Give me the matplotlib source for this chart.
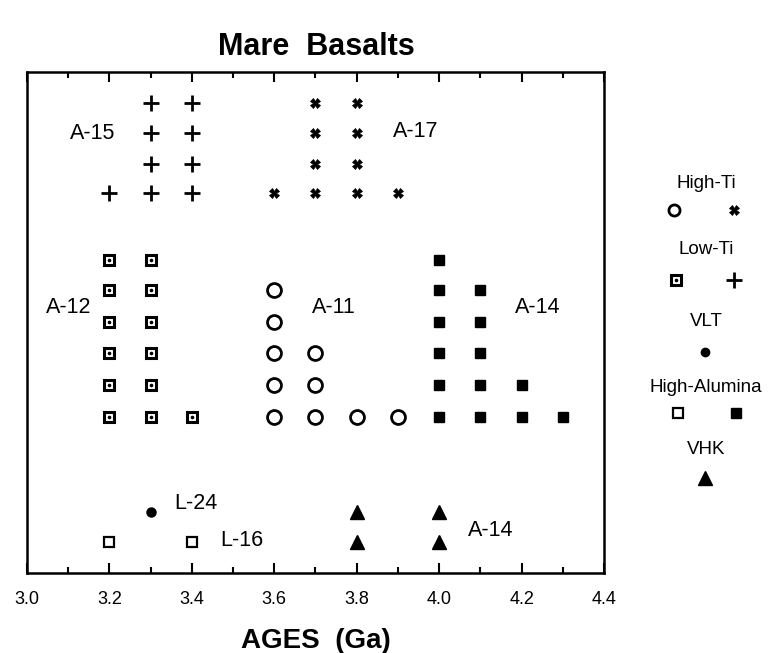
import matplotlib
matplotlib.use("Agg")
import matplotlib.pyplot as plt
from matplotlib.lines import Line2D
from matplotlib.ticker import MultipleLocator

plt.rcParams['font.family'] = ['Liberation Sans', 'DejaVu Sans']

# ---- data (x = age in Ga, y = row level, arbitrary vertical position) ----
# A-15 Low-Ti (plus)
a15_x = [3.3, 3.3, 3.3, 3.3, 3.4, 3.4, 3.4, 3.4, 3.2]
a15_y = [470, 440, 409, 380, 470, 440, 409, 380, 380]
# A-17 High-Ti (x)
a17_x = [3.7, 3.7, 3.7, 3.7, 3.8, 3.8, 3.8, 3.8, 3.6, 3.9]
a17_y = [470, 440, 409, 380, 470, 440, 409, 380, 380, 380]
# A-12 Low-Ti (dotted square)
a12_x = [3.2] * 6 + [3.3] * 6 + [3.4]
a12_y = [313, 283, 251, 220, 188, 156] * 2 + [156]
# A-11 High-Ti (open circle)
a11_x = [3.6, 3.6, 3.6, 3.6, 3.6, 3.7, 3.7, 3.7, 3.8, 3.9]
a11_y = [283, 251, 220, 188, 156, 220, 188, 156, 156, 156]
# A-14 High-Alumina (filled square)
a14_x = [4.0] * 6 + [4.1] * 5 + [4.2, 4.2, 4.3]
a14_y = [313, 283, 251, 220, 188, 156, 283, 251, 220, 188, 156, 188, 156, 156]
# L-24 VLT (filled dot)
l24_x = [3.3]
l24_y = [61]
# L-16 High-Alumina (open square)
l16_x = [3.2, 3.4]
l16_y = [31, 31]
# A-14 VHK (triangle)
vhk_x = [3.8, 3.8, 4.0, 4.0]
vhk_y = [61, 31, 61, 31]

group_labels = ["A-15", "A-17", "A-12", "A-11", "A-14", "L-24", "L-16", "A-14"]
label_x = [3.16, 3.944, 3.10, 3.745, 4.238, 3.41, 3.52, 4.126]
label_y = [440, 442, 266, 266, 266, 70, 33, 43]

tick_values = [3.0, 3.2, 3.4, 3.6, 3.8, 4.0, 4.2, 4.4]
tick_labels = ["3.0", "3.2", "3.4", "3.6", "3.8", "4.0", "4.2", "4.4"]

legend_titles = ["High-Ti", "Low-Ti", "VLT", "High-Alumina", "VHK"]

fig = plt.figure(figsize=(7.82, 6.53), dpi=100)
ax = fig.add_axes([27/782, 1-573/653, (604-27)/782, (573-72)/653])

# styles
plus_kw = dict(marker='+', color='black', markersize=11, markeredgewidth=2.0, linestyle='none')
x_kw = dict(marker='X', color='black', markersize=7, markeredgewidth=0.5, linestyle='none')
dsq_kw = dict(marker='s', markerfacecolor='white', markeredgecolor='black', markersize=7,
              markeredgewidth=2.2, linestyle='none')
dot_in_kw = dict(marker='o', color='black', markersize=1.6, linestyle='none')
circ_kw = dict(marker='o', markerfacecolor='white', markeredgecolor='black', markersize=10,
               markeredgewidth=2.0, linestyle='none')
fsq_kw = dict(marker='s', color='black', markersize=7.5, linestyle='none')
dot_kw = dict(marker='o', color='black', markersize=6.5, linestyle='none')
osq_kw = dict(marker='s', markerfacecolor='white', markeredgecolor='black', markersize=7,
              markeredgewidth=1.6, linestyle='none')
tri_kw = dict(marker='^', color='black', markersize=10, linestyle='none')

ax.plot(a15_x, a15_y, **plus_kw)
ax.plot(a17_x, a17_y, **x_kw)
ax.plot(a12_x, a12_y, **dsq_kw)
ax.plot(a12_x, a12_y, **dot_in_kw)
ax.plot(a11_x, a11_y, **circ_kw)
ax.plot(a14_x, a14_y, **fsq_kw)
ax.plot(l24_x, l24_y, **dot_kw)
ax.plot(l16_x, l16_y, **osq_kw)
ax.plot(vhk_x, vhk_y, **tri_kw)

for t, x, y in zip(group_labels, label_x, label_y):
    ax.text(x, y, t, ha='center', va='center', fontsize=15.5)

ax.set_xlim(3.0, 4.4)
ax.set_ylim(0, 501)
ax.set_xticks(tick_values)
ax.set_xticklabels(tick_labels)
ax.xaxis.set_minor_locator(MultipleLocator(0.1))
ax.set_yticks([])
ax.tick_params(axis='x', which='both', direction='in', top=True, bottom=True, width=1.5)
ax.tick_params(axis='x', which='major', length=7, labelsize=13, pad=13)
ax.tick_params(axis='x', which='minor', length=4)
for s in ax.spines.values():
    s.set_linewidth(1.8)

ax.set_xlabel("AGES  (Ga)", fontsize=20, fontweight='bold', labelpad=14)
fig.text(316/782, 1-47/653, "Mare  Basalts", ha='center', va='center',
         fontsize=22, fontweight='bold', family=['Liberation Sans Narrow', 'Liberation Sans', 'DejaVu Sans'])

# ---- legend on the right ----
tx = 706/782
title_y = [183, 249, 322, 387, 450]
for t, yp in zip(legend_titles, title_y):
    fig.text(tx, 1-yp/653, t, ha='center', va='center', fontsize=13.5)

def key(xp, yp, kw):
    fig.add_artist(Line2D([xp/782], [1-yp/653], transform=fig.transFigure, **kw))

key(674, 210, circ_kw | dict(markersize=8))
key(734, 210, x_kw)
key(676, 280, dsq_kw)
key(676, 280, dot_in_kw)
key(734, 280, plus_kw)
key(705, 352, dot_kw | dict(markersize=6))
key(678, 413, osq_kw)
key(736, 413, fsq_kw)
key(705, 478, tri_kw)

fig.savefig("out.png", dpi=100)
